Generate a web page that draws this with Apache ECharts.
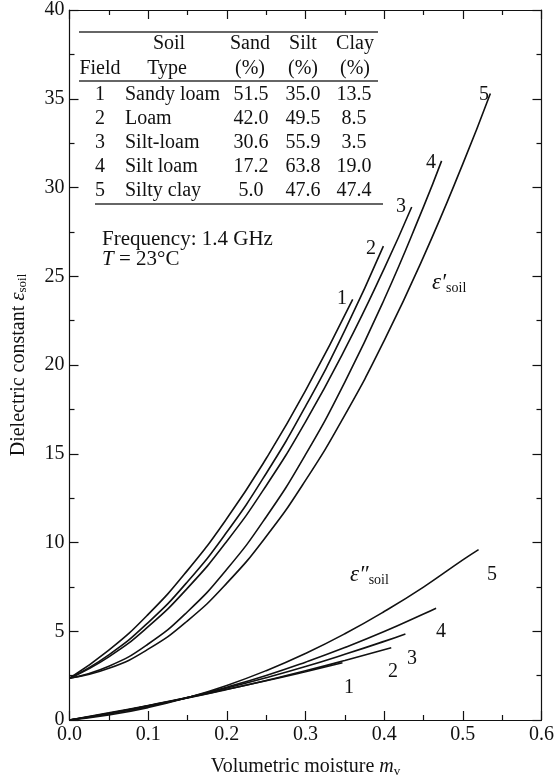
<!DOCTYPE html>
<html><head><meta charset="utf-8">
<script src="https://cdn.jsdelivr.net/npm/echarts@6/dist/echarts.min.js"></script>
<style>html,body{margin:0;padding:0;background:#fff}#c{width:557px;height:783px}</style>
</head><body><div id="c"></div>
<script>
// ---- data ----
const xTicks = [0.0, 0.1, 0.2, 0.3, 0.4, 0.5, 0.6];
const yTicks = [0, 5, 10, 15, 20, 25, 30, 35, 40];
// real part eps' (volumetric moisture, value)
const epsReal1 = [[0,2.35],[0.05,3.93],[0.1,5.95],[0.15,8.43],[0.2,11.35],[0.25,14.73],[0.3,18.55],[0.36,23.7]];
const epsReal2 = [[0,2.35],[0.05,3.67],[0.1,5.49],[0.15,7.79],[0.2,10.59],[0.25,13.89],[0.3,17.67],[0.35,21.95],[0.399,26.7]];
const epsReal3 = [[0,2.35],[0.05,3.56],[0.1,5.26],[0.15,7.43],[0.2,10.07],[0.25,13.2],[0.3,16.8],[0.35,20.88],[0.4,25.43],[0.435,28.9]];
const epsReal4 = [[0,2.35],[0.05,3.03],[0.1,4.28],[0.15,6.1],[0.2,8.49],[0.25,11.44],[0.3,14.95],[0.35,19.04],[0.4,23.69],[0.45,28.91],[0.473,31.5]];
const epsReal5 = [[0,2.35],[0.05,2.91],[0.1,3.99],[0.15,5.59],[0.2,7.71],[0.25,10.34],[0.3,13.5],[0.35,17.18],[0.4,21.37],[0.45,26.09],[0.5,31.33],[0.535,35.3]];
// imaginary part eps''
const epsImag1 = [[0,0],[0.05,0.40],[0.1,0.82],[0.15,1.26],[0.2,1.73],[0.25,2.21],[0.3,2.72],[0.347,3.22]];
const epsImag2 = [[0,0],[0.05,0.38],[0.1,0.80],[0.15,1.24],[0.2,1.72],[0.25,2.23],[0.3,2.77],[0.35,3.35],[0.409,4.07]];
const epsImag3 = [[0,0],[0.05,0.37],[0.1,0.80],[0.15,1.27],[0.2,1.80],[0.25,2.38],[0.3,3.01],[0.35,3.70],[0.4,4.43],[0.427,4.85]];
const epsImag4 = [[0,0],[0.05,0.34],[0.1,0.76],[0.15,1.27],[0.2,1.85],[0.25,2.51],[0.3,3.26],[0.35,4.08],[0.4,4.98],[0.45,5.97],[0.466,6.3]];
const epsImag5 = [[0,0],[0.05,0.28],[0.1,0.70],[0.15,1.26],[0.2,1.95],[0.25,2.78],[0.3,3.75],[0.35,4.86],[0.4,6.11],[0.45,7.49],[0.5,9.02],[0.52,9.6]];
// table
const tableFields = ['1','2','3','4','5'];
const tableSoil = ['Sandy loam','Loam','Silt-loam','Silt loam','Silty clay'];
const tableSand = ['51.5','42.0','30.6','17.2','5.0'];
const tableSilt = ['35.0','49.5','55.9','63.8','47.6'];
const tableClay = ['13.5','8.5','3.5','19.0','47.4'];
const curveLabels = ['1','2','3','4','5'];

// ---- chart ----
const FONT = 'Liberation Serif';
const chart = echarts.init(document.getElementById('c'), null, {renderer:'canvas'});
const black = '#111';
const lineStyle = {color: black, width: 1.6};
const realSets = [epsReal1, epsReal2, epsReal3, epsReal4, epsReal5];
const imagSets = [epsImag1, epsImag2, epsImag3, epsImag4, epsImag5];
const series = [];
realSets.concat(imagSets).forEach(d => series.push({
  type:'line', data:d, showSymbol:false, smooth:true,
  lineStyle:lineStyle, silent:true, animation:false, xAxisIndex:0, yAxisIndex:0
}));

const TS = 20;
const txt = (x, y, s, align, size) => ({
  type:'text', x:x, y:y, silent:true,
  style:{text:s, font:(size||TS)+'px ' + FONT, fill:black, textAlign:align||'center', textVerticalAlign:'middle'}
});

const graphics = [];
// table rules
graphics.push({type:'line', silent:true, shape:{x1:79,y1:32,x2:378,y2:32}, style:{stroke:'#333', lineWidth:1.3}});
graphics.push({type:'line', silent:true, shape:{x1:79,y1:81,x2:378,y2:81}, style:{stroke:'#333', lineWidth:1.3}});
graphics.push({type:'line', silent:true, shape:{x1:95,y1:204,x2:383,y2:204}, style:{stroke:'#333', lineWidth:1.3}});
// header
graphics.push(txt(169,44,'Soil'), txt(250,44,'Sand'), txt(303,44,'Silt'), txt(355,44,'Clay'));
graphics.push(txt(100,69,'Field'), txt(167,69,'Type'), txt(250,69,'(%)'), txt(303,69,'(%)'), txt(355,69,'(%)'));
const rowY = [95,119,143,167,191];
for (let i=0;i<5;i++){
  graphics.push(txt(100,rowY[i],tableFields[i]));
  graphics.push(txt(125,rowY[i],tableSoil[i],'left'));
  graphics.push(txt(251,rowY[i],tableSand[i]));
  graphics.push(txt(303,rowY[i],tableSilt[i]));
  graphics.push(txt(354,rowY[i],tableClay[i]));
}
graphics.push(txt(102,239,'Frequency: 1.4 GHz','left',21));
graphics.push({type:'text', x:102, y:259, silent:true, style:{
  text:'{i|T} = 23°C', font:'21px '+FONT, fill:black, textAlign:'left', textVerticalAlign:'middle',
  rich:{i:{fontStyle:'italic', fontFamily:FONT, fontSize:21}}}});
// curve labels
const realLabPos = [[342,299],[371,249],[401,207],[431,163],[484,95]];
const imagLabPos = [[349,688],[393,672],[412,659],[441,632],[492,575]];
for (let i=0;i<5;i++){
  graphics.push(txt(realLabPos[i][0], realLabPos[i][1], curveLabels[i]));
  graphics.push(txt(imagLabPos[i][0], imagLabPos[i][1], curveLabels[i]));
}
const epsRich = {
  e:{fontFamily:FONT, fontSize:23, fontStyle:'italic', fill:black},
  s:{fontFamily:FONT, fontSize:14, fill:black, padding:[10,0,0,0]}
};
graphics.push({type:'text', x:432, y:283, silent:true, style:{text:'{e|ε′}{s|soil}', rich:epsRich, textAlign:'left', textVerticalAlign:'middle'}});
graphics.push({type:'text', x:350, y:575, silent:true, style:{text:'{e|ε″}{s|soil}', rich:epsRich, textAlign:'left', textVerticalAlign:'middle'}});

const axisCommon = {
  axisLine:{show:true, onZero:false, lineStyle:{color:black, width:1.2}},
  axisTick:{show:true, inside:true, length:9, lineStyle:{color:black, width:1.2}},
  minorTick:{show:true, splitNumber:2, length:5, lineStyle:{color:black, width:1.2}},
  splitLine:{show:false}, minorSplitLine:{show:false}
};

chart.setOption({
  backgroundColor:'#fff',
  animation:false,
  grid:{left:62, right:14, top:10, bottom:54, containLabel:false},
  xAxis:[
    Object.assign({type:'value', position:'bottom', min:0, max:0.6, interval:0.1,
      axisLabel:{show:true, color:black, fontFamily:FONT, fontSize:20, margin:5, formatter:v=>v.toFixed(1)},
      name:'Volumetric moisture {i|m}{s|v}', nameLocation:'middle', nameGap:36,
      nameTextStyle:{color:black, fontFamily:FONT, fontSize:20,
        rich:{i:{fontStyle:'italic', fontFamily:FONT, fontSize:20, color:black}, s:{fontFamily:FONT, fontSize:13, color:black, padding:[9,0,0,0]}}}
    }, axisCommon),
    Object.assign({type:'value', position:'top', min:0, max:0.6, interval:0.1, axisLabel:{show:false}}, axisCommon)
  ],
  yAxis:[
    Object.assign({type:'value', position:'left', min:0, max:40, interval:5,
      axisLabel:{show:true, color:black, fontFamily:FONT, fontSize:20, margin:5},
      name:'Dielectric constant {i|ε}{s|soil}', nameLocation:'middle', nameGap:40, nameRotate:90,
      nameTextStyle:{color:black, fontFamily:FONT, fontSize:20,
        rich:{i:{fontStyle:'italic', fontFamily:FONT, fontSize:21, color:black}, s:{fontFamily:FONT, fontSize:13, color:black, padding:[9,0,0,0]}}}
    }, axisCommon),
    Object.assign({type:'value', position:'right', min:0, max:40, interval:5, axisLabel:{show:false}}, axisCommon)
  ],
  series: series,
  graphic: graphics
});
</script></body></html>
